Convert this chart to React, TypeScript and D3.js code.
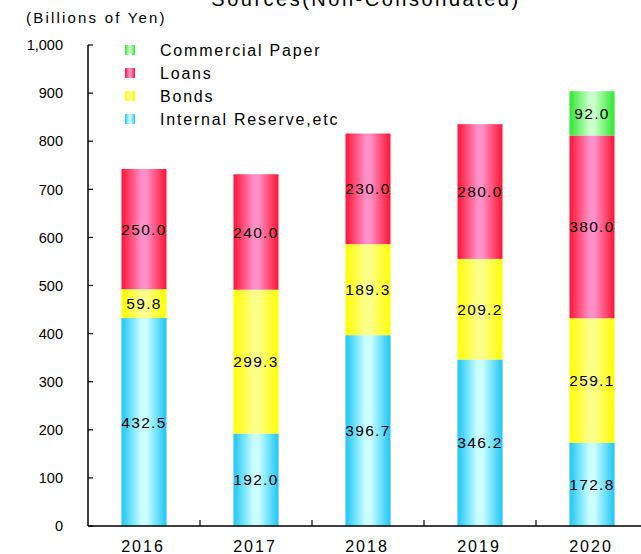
import React from "react";
import * as d3 from "d3";

const years = ["2016", "2017", "2018", "2019", "2020"];
const internalReserve = [432.5, 192.0, 396.7, 346.2, 172.8];
const bonds = [59.8, 299.3, 189.3, 209.2, 259.1];
const loans = [250.0, 240.0, 230.0, 280.0, 380.0];
const commercialPaper = [0, 0, 0, 0, 92.0];
const seriesNames = ["Internal Reserve,etc", "Bonds", "Loans", "Commercial Paper"];
const yTicks = [0, 100, 200, 300, 400, 500, 600, 700, 800, 900, 1000];

const gradStops: Record<string, [string, string]> = {
  "Internal Reserve,etc": ["#1ec6f6", "#ccffff"],
  Bonds: ["#ffff00", "#ffff8c"],
  Loans: ["#ff1434", "#ff90c8"],
  "Commercial Paper": ["#2ee82e", "#ccffcc"],
};

const FONT = "'Liberation Sans', Arial, sans-serif";

export default function App() {
  const W = 641, H = 554;
  const x0 = 88, x1 = 648;
  const y = d3.scaleLinear().domain([0, 1000]).range([526, 45]);
  const x = d3.scaleBand().domain(years).range([x0, x1]).padding(0);
  const barW = 45;

  const table = years.map((yr, i) => ({
    year: yr,
    "Internal Reserve,etc": internalReserve[i],
    Bonds: bonds[i],
    Loans: loans[i],
    "Commercial Paper": commercialPaper[i],
  }));
  const stack = d3.stack<any>().keys(seriesNames)(table);

  const gid = (k: string) => "g_" + k.replace(/[^a-zA-Z]/g, "");
  const fmt = d3.format(",");
  const legendOrder = ["Commercial Paper", "Loans", "Bonds", "Internal Reserve,etc"];

  return (
    <svg width={W} height={H} style={{ position: "absolute", left: 0, top: 0 }} fontFamily={FONT}>
      <defs>
        {seriesNames.map((k) => (
          <linearGradient key={k} id={gid(k)} x1="0" y1="0" x2="1" y2="0">
            <stop offset="0%" stopColor={gradStops[k][0]} />
            <stop offset="45%" stopColor={gradStops[k][1]} />
            <stop offset="55%" stopColor={gradStops[k][1]} />
            <stop offset="100%" stopColor={gradStops[k][0]} />
          </linearGradient>
        ))}
      </defs>
      <rect x={0} y={0} width={W} height={H} fill="#fff" />
      <text x={366} y={6} textAnchor="middle" fontSize={20} letterSpacing={2.5} fill="#000">
        Sources(Non-Consolidated)
      </text>
      <text x={26} y={23} fontSize={15} letterSpacing={2.2} fill="#000">
        (Billions of Yen)
      </text>

      {/* bars */}
      {stack.map((s) => (
        <g key={s.key}>
          {s.map((d, i) => {
            const v = d[1] - d[0];
            if (v <= 0) return null;
            const cx = (x(years[i]) as number) + x.bandwidth() / 2;
            return (
              <rect
                key={i}
                x={cx - barW / 2}
                y={y(d[1])}
                width={barW}
                height={y(d[0]) - y(d[1])}
                fill={`url(#${gid(s.key)})`}
              />
            );
          })}
        </g>
      ))}
      {stack.map((s) => (
        <g key={"l" + s.key}>
          {s.map((d, i) => {
            const v = d[1] - d[0];
            if (v <= 0) return null;
            const cx = (x(years[i]) as number) + x.bandwidth() / 2;
            return (
              <text
                key={i}
                x={cx}
                y={y((d[0] + d[1]) / 2)}
                dy="0.36em"
                textAnchor="middle"
                fontSize={15.5}
                letterSpacing={1.3}
                fill="#000"
              >
                {v.toFixed(1)}
              </text>
            );
          })}
        </g>
      ))}

      {/* y axis */}
      <line x1={x0} x2={x0} y1={y(1000)} y2={y(0)} stroke="#000" strokeWidth={1.5} />
      {yTicks.map((t) => (
        <g key={t}>
          <line x1={x0} x2={x0 + 5} y1={y(t)} y2={y(t)} stroke="#000" strokeWidth={1.2} />
          <text x={63} y={y(t)} dy="0.36em" textAnchor="end" fontSize={14.5} letterSpacing={0} fill="#000">
            {fmt(t)}
          </text>
        </g>
      ))}

      {/* x axis */}
      <line x1={x0} x2={W} y1={y(0)} y2={y(0)} stroke="#000" strokeWidth={1.5} />
      {years.slice(1).map((yr) => (
        <line key={yr} x1={x(yr) as number} x2={x(yr) as number} y1={y(0)} y2={y(0) - 6} stroke="#000" strokeWidth={1.2} />
      ))}
      {years.map((yr) => (
        <text
          key={yr}
          x={(x(yr) as number) + x.bandwidth() / 2 - 1}
          y={552}
          textAnchor="middle"
          fontSize={16}
          letterSpacing={2}
          fill="#000"
        >
          {yr}
        </text>
      ))}

      {/* legend */}
      {legendOrder.map((k, i) => {
        const cy = 50 + i * 23;
        return (
          <g key={k}>
            <rect x={125} y={cy - 5} width={10} height={10} fill={`url(#${gid(k)})`} />
            <text x={160} y={cy} dy="0.36em" fontSize={16} letterSpacing={1.8} fill="#000">
              {k}
            </text>
          </g>
        );
      })}
    </svg>
  );
}
